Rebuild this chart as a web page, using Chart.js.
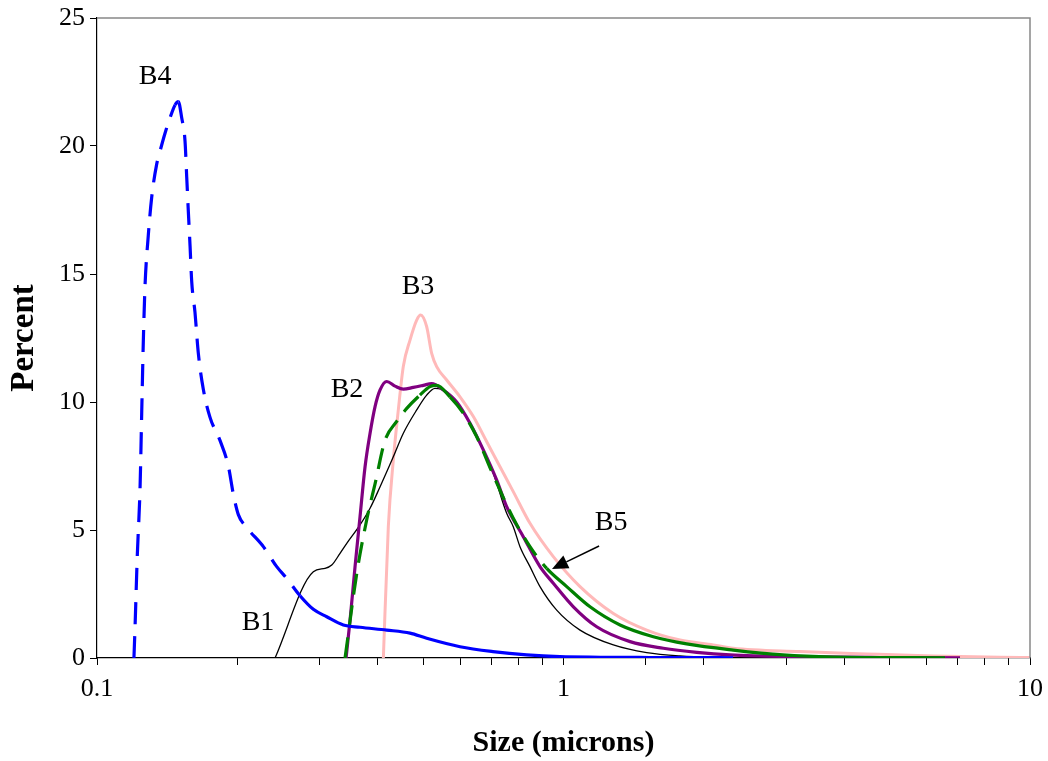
<!DOCTYPE html>
<html>
<head>
<meta charset="utf-8">
<script src="https://cdn.jsdelivr.net/npm/chart.js"></script>
<style>
  html, body { margin: 0; padding: 0; background: #fff; }
</style>
</head>
<body>
<canvas id="sizeChart" width="1048" height="761"></canvas>
<script>
// Particle size distributions, samples B1..B5 (size in microns, percent)
const b1Size = [0.2408, 0.2909, 0.3082, 0.3186, 0.3319, 0.3431, 0.3663, 0.3849, 0.4044, 0.4317, 0.4536, 0.4845, 0.509, 0.5303, 0.5618, 0.600, 0.6516, 0.7072, 0.7554, 0.7804, 0.8067, 0.8475, 0.8904, 0.967, 1.085, 1.279, 1.508, 1.777, 2.092, 2.911, 3.546];
const b1Pct  = [0, 3.37, 3.5, 3.63, 4.09, 4.48, 5.2, 5.85, 6.69, 7.86, 8.78, 9.69, 10.27, 10.53, 10.4, 9.82, 8.64, 7.21, 5.65, 5.13, 4.35, 3.57, 2.79, 1.87, 1.09, 0.51, 0.21, 0.08, 0.03, 0.01, 0];

const b2Size = [0.3419, 0.3487, 0.3574, 0.3663, 0.3755, 0.3849, 0.3945, 0.4044, 0.4179, 0.4353, 0.4536, 0.4765, 0.5005, 0.5217, 0.5525, 0.5903, 0.6304, 0.6731, 0.7192, 0.7554, 0.82, 0.8904, 0.9509, 1.05, 1.178, 1.389, 1.637, 1.93, 2.275, 3.213, 4.77, 7.08];
const b2Pct  = [0, 1.48, 3.57, 5.52, 7.47, 8.78, 9.82, 10.47, 10.8, 10.62, 10.5, 10.57, 10.65, 10.72, 10.47, 10.0, 9.17, 8.13, 6.95, 5.91, 4.74, 3.57, 2.92, 2.0, 1.22, 0.64, 0.38, 0.22, 0.12, 0.05, 0.02, 0.01];

const b3Size = [0.411, 0.4212, 0.4317, 0.4425, 0.4536, 0.4688, 0.4845, 0.4941, 0.509, 0.5217, 0.5347, 0.5618, 0.600, 0.6408, 0.6846, 0.731, 0.7804, 0.8475, 0.9509, 1.085, 1.279, 1.508, 1.777, 2.095, 2.31, 3.213, 4.467, 6.196, 8.625, 10];
const b3Pct  = [0, 5.13, 7.73, 9.69, 11.4, 12.42, 13.2, 13.4, 12.94, 11.9, 11.38, 10.86, 10.2, 9.43, 8.45, 7.47, 6.5, 5.26, 3.96, 2.79, 1.74, 1.09, 0.7, 0.51, 0.38, 0.25, 0.16, 0.08, 0.03, 0.02];

const b4Size = [0.120, 0.1206, 0.122, 0.1237, 0.1247, 0.1257, 0.1268, 0.1288, 0.131, 0.1343, 0.1365, 0.1399, 0.1434, 0.147, 0.1494, 0.1519, 0.1544, 0.1557, 0.157, 0.1583, 0.1596, 0.1622, 0.1649, 0.169, 0.1747, 0.1835, 0.1912, 0.196, 0.2009, 0.2094, 0.2273, 0.2428, 0.2551, 0.2724, 0.2909, 0.3108, 0.3373, 0.3663, 0.4179, 0.4688, 0.509, 0.600, 0.706, 0.834, 0.983, 1.20, 1.53, 1.96, 2.31];
const b4Pct  = [0, 1.1, 4.0, 6.7, 9.6, 12.4, 14.6, 16.5, 18.0, 19.3, 19.8, 20.5, 21.1, 21.6, 21.73, 21.1, 20.2, 18.8, 17.4, 16.1, 14.7, 13.5, 11.9, 10.5, 9.4, 8.5, 7.5, 6.4, 5.6, 5.1, 4.35, 3.57, 3.11, 2.43, 1.9, 1.61, 1.29, 1.2, 1.09, 0.97, 0.77, 0.44, 0.25, 0.12, 0.05, 0.03, 0.02, 0.015, 0.01];

const b5Size = [0.3402, 0.3604, 0.3786, 0.3945, 0.4144, 0.439, 0.4613, 0.4924, 0.5173, 0.5347, 0.571, 0.61, 0.6516, 0.7072, 0.7804, 0.8475, 0.9205, 1.016, 1.14, 1.322, 1.558, 1.837, 2.31, 2.954, 3.783, 6.573];
const b5Pct  = [0, 3.3, 5.4, 6.8, 8.5, 9.24, 9.75, 10.27, 10.6, 10.65, 10.2, 9.56, 8.64, 7.14, 5.46, 4.35, 3.5, 2.79, 2.0, 1.29, 0.83, 0.55, 0.31, 0.12, 0.04, 0.01];

const xLabelTicks = [0.1, 1, 10];
const yStep = 5;
const yMax = 25;

const serif = '"Liberation Serif", "Times New Roman", serif';

function pts(xs, ys) {
  return xs.map((x, i) => ({ x: x, y: ys[i] }));
}

// Excel style dashes: only the steep stretches of a dashed curve show the gaps
function steepDash(dash, slope) {
  return {
    borderDash: c => Math.abs(c.p1.y - c.p0.y) > slope * Math.abs(c.p1.x - c.p0.x) ? dash : []
  };
}

// text labels next to the curves, plus the B5 arrow (data coordinates)
const curveNotes = [
  { text: 'B4', x: 0.1332, y: 22.7 },
  { text: 'B3', x: 0.4877, y: 14.5 },
  { text: 'B2', x: 0.3435, y: 10.47 },
  { text: 'B1', x: 0.2214, y: 1.4 },
  { text: 'B5', x: 1.265, y: 5.27 }
];
const b5Arrow = { from: { x: 1.192, y: 4.375 }, to: { x: 0.9449, y: 3.48 } };

const notesPlugin = {
  id: 'notes',
  afterDatasetsDraw(chart) {
    const { ctx, chartArea, scales } = chart;
    ctx.save();
    // grey frame on top and right of the plot
    ctx.strokeStyle = '#888';
    ctx.lineWidth = 1.5;
    ctx.beginPath();
    ctx.moveTo(chartArea.left, chartArea.top);
    ctx.lineTo(chartArea.right, chartArea.top);
    ctx.lineTo(chartArea.right, chartArea.bottom);
    ctx.stroke();

    ctx.fillStyle = '#000';
    ctx.font = '28px ' + serif;
    ctx.textAlign = 'center';
    ctx.textBaseline = 'middle';
    curveNotes.forEach(n => {
      ctx.fillText(n.text, scales.x.getPixelForValue(n.x), scales.y.getPixelForValue(n.y));
    });

    const x0 = scales.x.getPixelForValue(b5Arrow.from.x), y0 = scales.y.getPixelForValue(b5Arrow.from.y);
    const x1 = scales.x.getPixelForValue(b5Arrow.to.x), y1 = scales.y.getPixelForValue(b5Arrow.to.y);
    const ang = Math.atan2(y1 - y0, x1 - x0);
    const headLen = 16, headW = 7;
    ctx.strokeStyle = '#000';
    ctx.lineWidth = 1.5;
    ctx.beginPath();
    ctx.moveTo(x0, y0);
    ctx.lineTo(x1 - Math.cos(ang) * headLen, y1 - Math.sin(ang) * headLen);
    ctx.stroke();
    ctx.beginPath();
    ctx.moveTo(x1, y1);
    ctx.lineTo(x1 - Math.cos(ang) * headLen - Math.sin(ang) * headW, y1 - Math.sin(ang) * headLen + Math.cos(ang) * headW);
    ctx.lineTo(x1 - Math.cos(ang) * headLen + Math.sin(ang) * headW, y1 - Math.sin(ang) * headLen - Math.cos(ang) * headW);
    ctx.closePath();
    ctx.fill();
    ctx.restore();
  }
};

function isDecade(v) {
  const l = Math.log10(v);
  return Math.abs(l - Math.round(l)) < 1e-6;
}

new Chart(document.getElementById('sizeChart').getContext('2d'), {
  type: 'line',
  data: {
    datasets: [
      { label: 'B3', data: pts(b3Size, b3Pct), borderColor: '#ffb9b9', borderWidth: 3, order: 5 },
      { label: 'B1', data: pts(b1Size, b1Pct), borderColor: '#000000', borderWidth: 1.3, order: 4 },
      { label: 'B2', data: pts(b2Size, b2Pct), borderColor: '#800080', borderWidth: 3.2, order: 3 },
      { label: 'B5', data: pts(b5Size, b5Pct), borderColor: '#008000', borderWidth: 3.2, order: 2,
        segment: steepDash([21, 11], 0.95) },
      { label: 'B4', data: pts(b4Size, b4Pct), borderColor: '#0000ff', borderWidth: 3.2, order: 1,
        segment: steepDash([22, 12], 1.05) }
    ]
  },
  options: {
    responsive: false,
    animation: false,
    devicePixelRatio: 1,
    layout: { padding: { top: 18, right: 18, left: 0, bottom: 0 } },
    elements: {
      point: { radius: 0, hoverRadius: 0 },
      line: { cubicInterpolationMode: 'monotone', fill: false, borderCapStyle: 'butt' }
    },
    plugins: {
      legend: { display: false },
      tooltip: { enabled: false }
    },
    scales: {
      x: {
        type: 'logarithmic',
        min: 0.1,
        max: 10,
        grid: { drawOnChartArea: false, drawTicks: true, tickLength: 7, color: '#000' },
        border: { color: '#000', width: 1.2 },
        ticks: {
          autoSkip: false,
          maxRotation: 0,
          color: '#000',
          padding: 9,
          font: { family: serif, size: 26 },
          callback: v => (isDecade(v) && xLabelTicks.some(t => Math.abs(t - v) < 1e-9)) ? String(v) : ''
        },
        title: {
          display: true,
          text: 'Size (microns)',
          color: '#000',
          font: { family: serif, size: 30, weight: 'bold' },
          padding: { top: 0, bottom: 0 }
        },
        afterFit: s => { s.height = 103; s.paddingLeft = 0; s.paddingRight = 0; }
      },
      y: {
        min: 0,
        max: yMax,
        grid: { drawOnChartArea: false, drawTicks: true, tickLength: 7, color: '#000' },
        border: { color: '#000', width: 1.2 },
        ticks: {
          stepSize: yStep,
          color: '#000',
          padding: 5,
          font: { family: serif, size: 26 }
        },
        title: {
          display: true,
          text: 'Percent',
          color: '#000',
          font: { family: serif, size: 33, weight: 'bold' },
          padding: { top: 5, bottom: 0 }
        },
        afterFit: s => { s.width = 97; s.paddingTop = 0; s.paddingBottom = 0; }
      }
    }
  },
  plugins: [notesPlugin]
});
</script>
</body>
</html>
